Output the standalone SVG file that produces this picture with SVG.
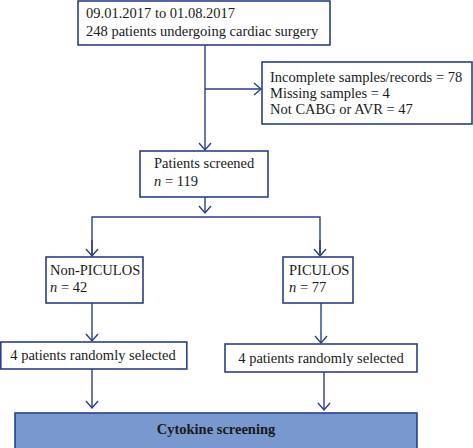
<svg xmlns="http://www.w3.org/2000/svg" width="473" height="448" viewBox="0 0 473 448">
<style>
.box{fill:#fff;stroke:#2a3f8e;stroke-width:1.6}
.ln{fill:none;stroke:#2a3f8e;stroke-width:1.4}
text{font-family:"Liberation Serif","Times New Roman",serif;font-size:14.5px;fill:#1a1a1a}
.c{text-anchor:middle}
</style>
<defs>
<marker id="ah" markerUnits="userSpaceOnUse" markerWidth="16" markerHeight="16" refX="8" refY="8" orient="auto">
<path d="M1,2 L8,8 L1,14" fill="none" stroke="#2a3f8e" stroke-width="1.4"/>
</marker>
</defs>
<g id="connectors">
<path class="ln" d="M205,45 V150" marker-end="url(#ah)"/>
<path class="ln" d="M205,89 H261" marker-end="url(#ah)"/>
<path class="ln" d="M205,197 V213" marker-end="url(#ah)"/>
<path class="ln" d="M92,256 V217 H320 V256" />
<path class="ln" d="M92,240 V256" marker-end="url(#ah)"/>
<path class="ln" d="M320,240 V256" marker-end="url(#ah)"/>
<path class="ln" d="M92,303 V341" marker-end="url(#ah)"/>
<path class="ln" d="M321,303 V343" marker-end="url(#ah)"/>
<path class="ln" d="M92,369 V408" marker-end="url(#ah)"/>
<path class="ln" d="M324,372 V410" marker-end="url(#ah)"/>
</g>
<g id="n1">
<rect class="box" x="78" y="1" width="252" height="44"/>
<text x="86" y="18">09.01.2017 to 01.08.2017</text>
<text x="86" y="36">248 patients undergoing cardiac surgery</text>
</g>
<g id="n2">
<rect class="box" x="262" y="62" width="210" height="62"/>
<text x="270" y="82">Incomplete samples/records = 78</text>
<text x="270" y="98">Missing samples = 4</text>
<text x="270" y="114">Not CABG or AVR = 47</text>
</g>
<g id="n3">
<rect class="box" x="140" y="151" width="128" height="46"/>
<text x="154" y="168">Patients screened</text>
<text x="154" y="186"><tspan font-style="italic">n</tspan> = 119</text>
</g>
<g id="n4">
<rect class="box" x="46" y="257" width="97" height="46"/>
<text x="50" y="275">Non-PICULOS</text>
<text x="50" y="292"><tspan font-style="italic">n</tspan> = 42</text>
</g>
<g id="n5">
<rect class="box" x="283" y="257" width="70" height="46"/>
<text x="289" y="275">PICULOS</text>
<text x="289" y="292"><tspan font-style="italic">n</tspan> = 77</text>
</g>
<g id="n6">
<rect class="box" x="0.8" y="342" width="186" height="27"/>
<text class="c" x="93" y="360">4 patients randomly selected</text>
</g>
<g id="n7">
<rect class="box" x="225" y="344" width="192" height="28"/>
<text class="c" x="321" y="363">4 patients randomly selected</text>
</g>
<g id="n8">
<rect x="15" y="413" width="402" height="36" fill="#7898cf" stroke="#2a3f8e" stroke-width="1.6"/>
<text class="c" x="216" y="434" font-weight="bold" font-size="14px">Cytokine screening</text>
</g>
</svg>
